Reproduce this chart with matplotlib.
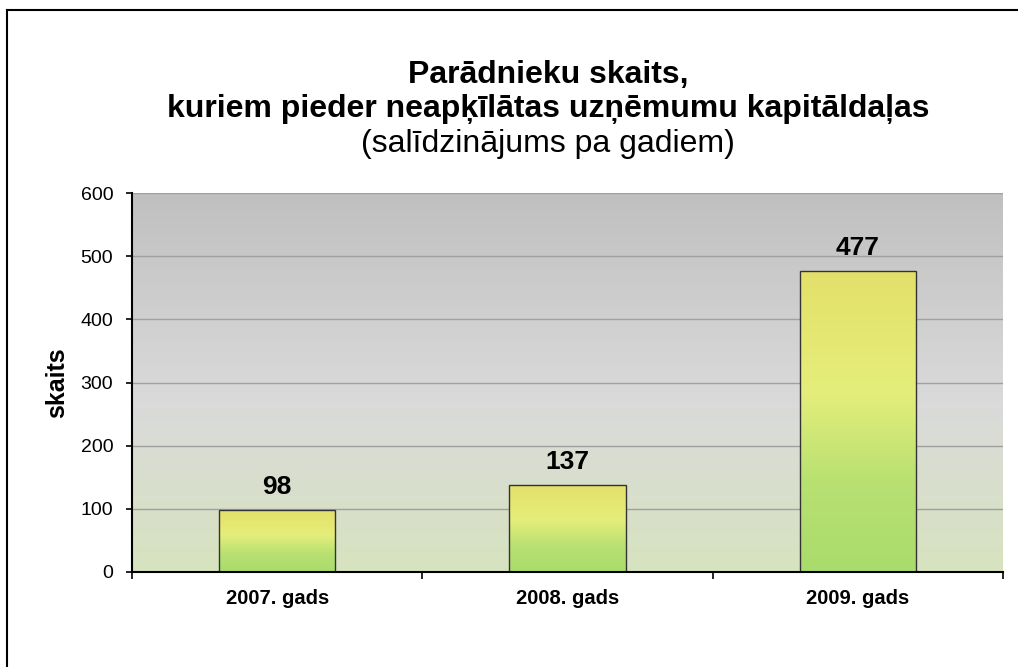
import matplotlib
matplotlib.use('Agg')

import numpy as np
import matplotlib.pyplot as plt
from matplotlib.colors import LinearSegmentedColormap
from matplotlib.lines import Line2D

plt.rcParams['font.family'] = ['Liberation Sans', 'DejaVu Sans']

# Data
years = ["2007. gads", "2008. gads", "2009. gads"]
counts = [98, 137, 477]
y_ticks = [0, 100, 200, 300, 400, 500, 600]

fig = plt.figure(figsize=(10.18, 6.67), dpi=100)
ax = fig.add_axes([132 / 1018, 95 / 667, 871 / 1018, 379 / 667])

x = np.arange(len(years))
ax.set_xlim(-0.5, len(years) - 0.5)
ax.set_ylim(0, 600)

# Background gradient (gray top -> light green bottom)
bg_cmap = LinearSegmentedColormap.from_list(
    "bg", [(0.0, "#d7e3bf"), (0.45, "#dadada"), (1.0, "#c0c0c0")])
grad = np.linspace(0, 1, 256).reshape(-1, 1)
ax.imshow(grad, cmap=bg_cmap, aspect='auto', origin='lower',
          extent=[-0.5, len(years) - 0.5, 0, 600], zorder=0)

# Gridlines
for t in y_ticks[1:]:
    ax.axhline(t, color="#a0a0a0", lw=1.0, zorder=1)

# Bars with vertical gradient
bar_cmap = LinearSegmentedColormap.from_list(
    "bar", [(0.0, "#a9dc6c"), (0.3, "#b8e172"), (0.6, "#e5ee7a"), (1.0, "#e3e06a")])
bars = ax.bar(x, counts, width=0.4, facecolor='none', edgecolor="#333333",
              lw=1.0, zorder=3)
for b in bars:
    x0, w, h = b.get_x(), b.get_width(), b.get_height()
    im = ax.imshow(grad, cmap=bar_cmap, aspect='auto', origin='lower',
                   extent=[x0, x0 + w, 0, h], zorder=2)
    im.set_clip_path(b)

for xi, v in zip(x, counts):
    ax.annotate(str(v), (xi, v), xytext=(0, 8), textcoords='offset points',
                ha='center', va='bottom', fontsize=19, fontweight='bold')

ax.set_xlim(-0.5, len(years) - 0.5)
ax.set_ylim(0, 600)

# Axes styling
for s in ['top', 'right']:
    ax.spines[s].set_visible(False)
ax.spines['left'].set_linewidth(1.5)
ax.spines['bottom'].set_linewidth(1.5)
ax.spines['left'].set_zorder(5)
ax.spines['bottom'].set_zorder(5)

ax.set_yticks(y_ticks)
ax.tick_params(axis='y', labelsize=14, length=4.5, width=1.2, direction='out', pad=9)
ax.set_xticks(x)
ax.set_xticklabels(years, fontsize=14.5, fontweight='bold')
ax.tick_params(axis='x', length=0, pad=12)
ax.set_xticks(np.arange(-0.5, len(years)), minor=True)
ax.tick_params(axis='x', which='minor', length=5, width=1.2, direction='out')

ax.set_ylabel("skaits", fontsize=18, fontweight='bold', labelpad=8)

# Title
tx = 548 / 1018
fig.text(tx, 1 - 75 / 667, "Parādnieku skaits,", ha='center', va='center',
         fontsize=23, fontweight='bold')
fig.text(tx, 1 - 109 / 667, "kuriem pieder neapķīlātas uzņēmumu kapitāldaļas",
         ha='center', va='center', fontsize=23, fontweight='bold')
fig.text(tx, 1 - 144 / 667, "(salīdzinājums pa gadiem)", ha='center', va='center',
         fontsize=23)

# Outer chart border (left and top visible)
fig.add_artist(Line2D([7 / 1018, 7 / 1018], [0, 1 - 10 / 667],
                      transform=fig.transFigure, color='black', lw=1.5))
fig.add_artist(Line2D([7 / 1018, 1], [1 - 10 / 667, 1 - 10 / 667],
                      transform=fig.transFigure, color='black', lw=1.5))

fig.savefig("out.png", dpi=100)
